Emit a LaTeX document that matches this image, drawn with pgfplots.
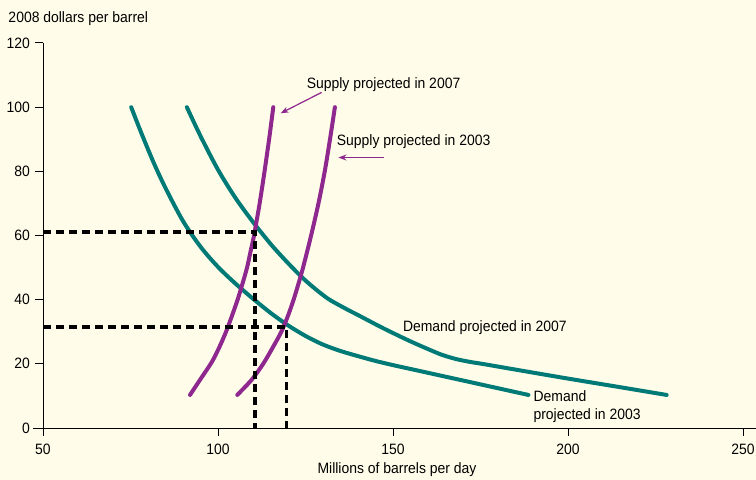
\documentclass[border=0pt]{standalone}
\usepackage{pgfplots}
\pgfplotsset{compat=1.18}
\usetikzlibrary{arrows.meta}
\usepackage{fontspec}
\setmainfont{Liberation Sans}[FakeStretch=0.93]
\definecolor{bg}{RGB}{255,253,233}
\definecolor{tealc}{RGB}{0,122,118}
\definecolor{purp}{RGB}{142,40,142}

\begin{document}
\fontsize{15bp}{18bp}\selectfont
\begin{tikzpicture}
\fill[bg] (0,0) rectangle (756bp,480bp);
\begin{axis}[
    at={(43bp,52bp)}, anchor=south west,
    scale only axis, width=700bp, height=385bp,
    xmin=50, xmax=250, ymin=0, ymax=120,
    axis x line=bottom, axis y line=left,
    axis line style={-, line width=1bp},
    x axis line style={draw=none},
    xtick={50,100,150,200,250},
    ytick={0,20,40,60,80,100,120},
    tick align=outside,
    major tick length=8bp,
    tick style={black, line width=1bp},
    tick label style={font=\fontsize{15bp}{18bp}\selectfont},
    xticklabel style={yshift=-3bp},
    /pgf/number format/assume math mode=true,
    clip=false,
  ]
  % axis line running past both ends
  \draw[line width=1bp] (axis cs:47.1,0) -- (axis cs:253.7,0);

  % Demand projected in 2003
  \addplot[tealc, line width=4bp, line cap=round, smooth] coordinates {
    (75.2,100) (78,92.2) (81.5,83) (85,74.8) (90,64.5) (95,56.5) (100,50.2)
    (105,45) (110,40.3) (115,35.9) (120,32) (125,28.7) (130,26) (135,24)
    (140,22.4) (145,20.9) (150,19.6) (155,18.4) (170,14.8) (188.7,10.3)
  };
  % Demand projected in 2007
  \addplot[tealc, line width=4bp, line cap=round, smooth] coordinates {
    (91.1,100) (95,91) (100,80.5) (105,71.7) (110,64.2) (115,57.4)
    (117.7,54.1) (120,51.4) (123.4,47.6) (126,45.0) (129.1,42.2) (132,39.9)
    (136.8,37.0) (140,35.2) (146.3,31.6) (150,29.6) (155,27.0) (160,24.6)
    (164,22.8) (168,21.5) (172,20.6) (176,19.9) (185,18.2)
    (200,15.4) (215,12.7) (228.2,10.3)
  };
  % Supply projected in 2007
  \addplot[purp, line width=4bp, line cap=round, smooth] coordinates {
    (92,10.3) (95.1,15.4) (98.2,20.5) (100.3,25) (102.3,30) (104,35)
    (105.6,40) (107,45) (108.3,50) (109.3,55) (110.3,60) (111.1,65)
    (111.9,70) (113.3,80) (114.6,90) (115.8,100)
  };
  % Supply projected in 2003
  \addplot[purp, line width=4bp, line cap=round, smooth] coordinates {
    (105.5,10.3) (109.6,15) (112.9,20) (115.6,25) (118.1,30) (120,35)
    (121.6,40) (123,45) (124.3,50) (126.6,60) (128.7,70) (130.5,80)
    (132,90) (133.4,100)
  };

  % equilibrium guides
  \addplot[black, line width=3.6bp, dash pattern=on 8bp off 5bp] coordinates {
    (50,61.1) (110.6,61.1) (110.6,0)
  };
  \addplot[black, line width=3.6bp, dash pattern=on 8bp off 5bp] coordinates {
    (50,31.5) (119.6,31.5) (119.6,0)
  };

  % annotations
  \node[anchor=base west, inner sep=0pt] at (axis cs:125.3,105.9) {Supply projected in 2007};
  \node[anchor=base west, inner sep=0pt] at (axis cs:133.9,88.2) {Supply projected in 2003};
  \node[anchor=base west, inner sep=0pt] at (axis cs:152.8,30.0) {Demand projected in 2007};
  \node[anchor=base west, inner sep=0pt] at (axis cs:190.1,8.2) {Demand};
  \node[anchor=base west, inner sep=0pt] at (axis cs:190.1,2.7) {projected in 2003};
  \draw[purp, line width=1.2bp, -{Stealth[length=8bp,width=6bp]}]
    (axis cs:129.6,104.6) -- (axis cs:117.9,98.1);
  \draw[purp, line width=1.2bp, -{Stealth[length=8bp,width=6bp]}]
    (axis cs:147.4,84.3) -- (axis cs:134.4,84.3);
\end{axis}
\node[anchor=base west, inner sep=0pt] at (8.3bp,457.3bp) {2008 dollars per barrel};
\node[anchor=base, inner sep=0pt] at (397bp,7bp) {Millions of barrels per day};
\pgfresetboundingbox
\path[use as bounding box] (0,0) rectangle (756bp,480bp);
\end{tikzpicture}
\end{document}
